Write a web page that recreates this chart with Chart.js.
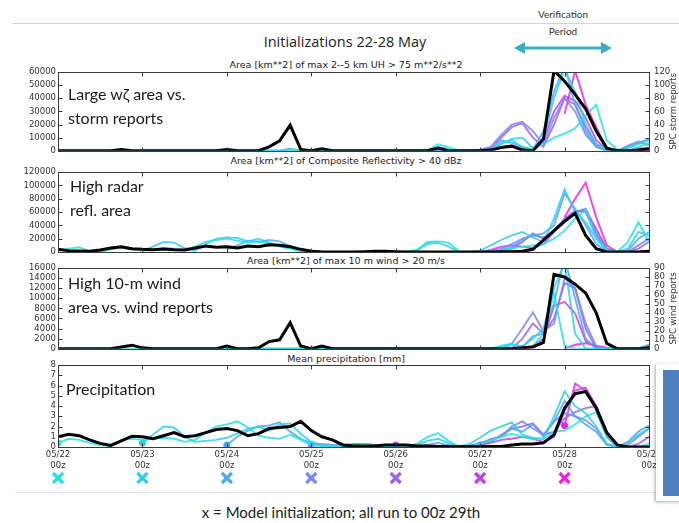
<!DOCTYPE html>
<html>
<head>
<meta charset="utf-8">
<script src="https://cdn.jsdelivr.net/npm/chart.js@4.4.1/dist/chart.umd.min.js"></script>
<style>
html, body { margin: 0; padding: 0; background: #fff; }
#page { position: relative; width: 679px; height: 523px; overflow: hidden; background: #fff; color: #222; }
canvas { position: absolute; left: 0; }
.t { position: absolute; white-space: nowrap; }
.c { transform: translate(-50%, -50%); }
.ptitle { font-family: "DejaVu Sans", sans-serif; font-size: 9.5px; color: #222; }
.note { font-family: Lato, "Open Sans", sans-serif; font-size: 16px; color: #1a1a1a; transform: translateY(-50%); }
.rule { position: absolute; height: 1px; background: #d4d4d4; }
#card { position: absolute; left: 656px; top: 364px; width: 40px; height: 137px; background: #fff; box-shadow: -1px 1px 3px rgba(0,0,0,0.35); z-index: 5; }
#card div { position: absolute; left: 7px; top: 6px; width: 40px; height: 126px; background: #4f7fbe; }
</style>
</head>
<body>
<div id="page">
  <div class="rule" style="left:12px; top:23px; width:667px;"></div>
  <div class="t c" style="left:563px; top:14px; font-family:Lato,sans-serif; font-size:10px; color:#333;">Verification</div>
  <div class="t c" style="left:563px; top:31px; font-family:Lato,sans-serif; font-size:10px; color:#333;">Period</div>
  <svg style="position:absolute; left:512px; top:40px;" width="102" height="16">
    <line x1="10" y1="8" x2="92" y2="8" stroke="#3aaec6" stroke-width="3"/>
    <polygon points="2,8 13,2 13,14" fill="#3aaec6"/>
    <polygon points="100,8 89,2 89,14" fill="#3aaec6"/>
  </svg>
  <div class="t c" style="left:345px; top:41px; font-family:'Open Sans',sans-serif; font-size:14.5px; color:#222;">Initializations 22-28 May</div>

  <div class="t c ptitle" style="left:346px; top:64px;">Area [km**2] of max 2--5 km UH &gt; 75 m**2/s**2</div>
  <div class="t c ptitle" style="left:346px; top:160px;">Area [km**2] of Composite Reflectivity &gt; 40 dBz</div>
  <div class="t c ptitle" style="left:346px; top:260px;">Area [km**2] of max 10 m wind &gt; 20 m/s</div>
  <div class="t c ptitle" style="left:346px; top:358px;">Mean precipitation [mm]</div>

  <canvas id="uh" width="679" height="98" style="top:62px;"></canvas>
  <canvas id="refl" width="679" height="99" style="top:161px;"></canvas>
  <canvas id="wind" width="679" height="100" style="top:258px;"></canvas>
  <canvas id="precip" width="679" height="135" style="top:355px;"></canvas>

  <div class="t note" style="left:68px; top:93px;">Large wζ area vs.</div>
  <div class="t note" style="left:68px; top:117px;">storm reports</div>
  <div class="t note" style="left:70px; top:185px;">High radar</div>
  <div class="t note" style="left:70px; top:209px;">refl. area</div>
  <div class="t note" style="left:68px; top:282px;">High 10-m wind</div>
  <div class="t note" style="left:68px; top:306px;">area vs. wind reports</div>
  <div class="t note" style="left:66px; top:388px;">Precipitation</div>

  <div class="rule" style="left:15px; top:492px; width:642px; background:#e2e2e2;"></div>
  <div class="t c" style="left:341px; top:512px; font-family:Lato,sans-serif; font-size:15px; color:#222;">x = Model initialization; all run to 00z 29th</div>
  <div id="card"><div></div></div>
</div>

<script>
// Time axis: 3-hourly values from 05/22 00z to 05/29 00z (57 steps).
const STEP_HOURS = 3;
const DAY_LABELS = ['05/22', '05/23', '05/24', '05/25', '05/26', '05/27', '05/28', '05/29'];
// Model runs initialised daily at 00z, 22-28 May; each run starts at step 8*k.
const INIT_STEPS = [0, 8, 16, 24, 32, 40, 48];
const RUN_COLORS = ['#1ee3ea', '#2fcdf2', '#4aa9f2', '#7b86f0', '#9c62ee', '#c33de9', '#f01ee6'];

// --- Panel 1: area of max 2-5 km UH > 75 (km^2), SPC storm reports (count)
const stormReports = [0,0,0,0,0,0,2,0, 0,0,0,0,0,0,0,0, 2,0,0,0,6,15,39,2, 0,3,0,0,0,0,0,0,
  0,0,0,0,4,0,0,0, 0,1,5,7,1,0,18,122, 106,86,64,30,4,0,0,1, 3];
const uhRun22 = [0,0,0,0,0,0,0,0, 0,0,0,0,0,0,0,0, 800,0,0,0,0,0,1200,0, 0,0,0,0,0,0,0,0,
  0,0,0,0,5000,2500,0,0, 0,0,6000,8000,3000,1000,5000,10000, 13000,17000,27000,35000,8000,1000,0,3000, 6000];
const uhRun23 = [0,0,0,0,0,0,0,0, 0,0,0,0,0,0,0,0, 0,0,0,0,0,0,0,0, 0,0,0,0,3000,1000,0,0,
  0,0,5000,9000,10000,2000,8000,40000, 62000,45000,20000,5000,1000,0,2000,5000, 8000];
const uhRun24 = [500,0,0,0,0,0,1500,0, 0,0,0,0,0,0,0,0, 0,0,0,0,0,0,0,0, 0,0,8000,6000,3000,1000,15000,45000,
  65000,35000,15000,3000,0,0,3000,6000, 9000];
const uhRun25 = [0,0,0,0,0,0,0,0, 0,0,0,0,0,0,0,0, 1000,3000,12000,20000,22000,15000,5000,25000,
  40000,30000,12000,3000,0,0,4000,7000, 4000];
const uhRun26 = [0,0,0,0,0,0,0,0, 0,2000,10000,18000,21000,10000,3000,20000, 40000,35000,18000,5000,0,0,0,2000, 2000];
const uhRun27 = [0,1000,3000,4000,2000,0,8000,30000, 42000,38000,25000,8000,1000,0,0,0, 500];
const uhRun28 = [28000,61000,35000,18000,2000,0,0,0, 500];

// --- Panel 2: area of composite reflectivity > 40 dBZ (km^2)
const reflObserved = [4000,2000,1500,1000,3000,6000,8000,5000, 4000,3500,4500,3500,3000,6000,9000,7000,
  8000,6000,9000,8000,11000,10000,8000,4000, 1000,0,0,0,0,500,1000,1000, 500,0,0,0,0,0,0,0,
  0,0,500,500,1000,4000,18000,32000, 46000,58000,25000,5000,0,0,0,0, 1000];
const reflRun22 = [2000,5000,7000,1000,0,4000,6000,4000, 2000,3000,6000,5000,3000,8000,15000,18000,
  20000,17000,14000,16000,12000,8000,5000,1000, 0,0,0,0,0,0,0,0, 0,0,3000,15000,16000,14000,1000,0,
  0,1000,3000,5000,8000,10000,12000,20000, 32000,50000,63000,20000,3000,0,15000,45000, 15000];
const reflRun23 = [2000,8000,15000,14000,6000,2000,12000,20000, 22000,21000,16000,20000,14000,9000,6000,2000,
  0,0,0,0,0,0,0,0, 0,0,2000,12000,14000,8000,0,0, 2000,10000,18000,25000,30000,22000,15000,50000,
  94000,60000,45000,20000,3000,0,5000,30000, 25000];
const reflRun24 = [4000,10000,17000,15000,18000,16000,9000,3000, 1000,0,0,0,0,0,0,0, 0,0,0,0,0,0,0,0, 0,0,
  3000,8000,18000,25000,28000,40000, 88000,65000,40000,12000,1000,0,2000,20000, 30000];
const reflRun25 = [2000,500,0,0,0,0,0,0, 0,0,0,0,0,0,0,0, 0,0,5000,12000,20000,25000,22000,30000,
  45000,60000,65000,30000,5000,0,0,10000, 20000];
const reflRun26 = [0,0,0,0,0,0,0,0, 0,0,0,5000,15000,28000,20000,32000, 50000,62000,60000,25000,3000,0,0,5000, 15000];
const reflRun27 = [0,3000,8000,10000,8000,6000,12000,30000, 50000,60000,63000,35000,5000,0,0,0, 2000];
const reflRun28 = [52000,80000,104000,52000,10000,0,0,0, 1000];

// --- Panel 3: area of max 10 m wind > 20 m/s (km^2), SPC wind reports (count)
const windReports = [0,0,0,0,0,0,2,4, 1,0,0,0,0,0,0,0, 3,0,0,1,8,10,29,3, 0,3,0,0,0,0,0,0,
  0,0,0,0,0,0,0,0, 0,0,0,0,1,2,7,83, 80,72,62,40,6,0,0,0, 1];
const windRun22 = [0,0,0,0,0,0,0,0, 0,0,0,0,0,0,0,0, 0,0,0,0,0,0,0,0, 0,0,0,0,0,0,0,0, 0,0,0,0,0,0,0,0,
  0,0,600,1000,300,500,3000,11000, 500,0,0,0,0,0,0,0, 0];
const windRun23 = [0,0,0,0,0,0,0,0, 0,0,0,0,0,0,0,0, 0,0,0,0,0,0,0,0, 0,0,0,0,0,0,0,0, 0,0,
  300,800,500,2000,4000,12000, 17000,3000,0,0,0,0,0,0, 0];
const windRun24 = [0,0,0,0,0,0,0,0, 0,0,0,0,0,0,0,0, 0,0,0,0,0,0,0,0, 0,0,0,0,
  300,2500,3000,9000, 18000,10000,2000,0,0,0,0,0, 500];
const windRun25 = [0,0,0,0,0,0,0,0, 0,0,0,0,0,0,0,0, 0,0,0,1000,4000,7200,3500,5000,
  14000,12000,5000,500,0,0,0,0, 800];
const windRun26 = [0,0,0,0,0,0,0,0, 0,0,0,0,2000,5000,3000,6000, 13000,12000,4000,0,0,0,0,0, 600];
const windRun27 = [0,0,0,0,0,500,2000,8500, 9300,7000,1500,300,0,0,0,0, 0];
const windRun28 = [0,800,1100,600,200,0,0,0, 0];

// --- Panel 4: mean precipitation (mm)
const precipObserved = [1.0,1.25,1.1,0.7,0.35,0.15,0.6,1.05, 1.0,0.8,1.1,1.4,1.0,1.1,1.4,1.7,
  1.8,1.6,1.1,1.3,1.8,1.9,2.0,2.5, 1.6,1.0,0.7,0.2,0.1,0.1,0.1,0.2, 0.2,0.2,0.1,0.1,0.05,0.05,0.05,0.05,
  0.05,0.05,0.05,0.2,0.3,0.3,0.4,1.2, 3.8,5.2,5.4,3.8,1.4,0.2,0,0, 0];
const precipRun22 = [0.4,0.8,0.7,0.4,0.2,0.05,0.7,0.8, 0.7,0.8,0.9,0.8,0.5,0.7,1.4,2.0,
  2.2,2.5,1.9,1.1,0.9,0.8,1.2,0.7, 0.2,0.1,0.1,0.1,0.2,0.3,0.1,0.1, 0.2,0.1,0.3,1.0,1.35,0.6,0,0,
  0.3,0.6,1.0,1.3,1.0,0.8,0.8,1.5, 1.6,2.2,3.0,3.4,1.0,0.1,0,0, 0.3];
const precipRun23 = [0.4,1.2,2.0,1.9,1.0,0.5,0.6,0.7, 0.9,1.3,1.8,2.0,1.6,2.2,2.3,1.3,
  0.5,0.2,0.1,0.1,0.1,0.2,0.2,0.1, 0.1,0.1,0.2,0.6,0.8,0.4,0.05,0.3, 0.9,1.6,2.0,2.4,1.2,0.9,0.8,3.0,
  5.4,4.0,3.3,2.0,0.3,0,0.4,1.2, 1.8];
const precipRun24 = [0.2,1.0,1.6,2.0,2.1,2.4,1.5,0.8, 0.4,0.1,0.05,0.1,0.2,0.3,0.2,0.1,
  0.1,0.05,0.05,0.2,0.4,0.2,0.05,0.1, 0.4,0.7,1.0,1.8,1.5,2.2,1.0,2.5, 4.5,3.0,2.2,1.5,0.2,0,0.5,1.5, 2.1];
const precipRun25 = [0.2,0.3,0.2,0.2,0.3,0.3,0.2,0.1, 0.05,0.05,0.05,0.1,0.1,0.05,0.05,0.1,
  0.3,0.8,1.0,2.0,2.5,1.8,1.2,2.5, 3.3,3.0,2.6,1.8,0.3,0,0.2,1.0, 1.8];
const precipRun26 = [0.2,0.1,0.05,0.05,0.05,0.05,0.05,0.1, 0.3,0.5,1.2,1.8,2.0,2.3,1.2,1.5,
  2.8,3.4,3.8,4.0,1.5,0.2,0,0.3, 1.0];
const precipRun27 = [0.2,0.4,0.7,0.8,1.0,0.8,0.5,1.0, 3.5,5.5,5.8,4.0,1.2,0.1,0,0, 0];
const precipRun28 = [2.1,6.2,5.5,3.6,1.0,0,0,0, 0];

const TICK_FONT = { family: 'DejaVu Sans', size: 8.5, lineHeight: 1.35 };
const TICK_COLOR = '#333';

function toPoints(values, startStep) {
  return values.map((v, j) => ({ x: (startStep + j) * STEP_HOURS, y: v }));
}

function withAlpha(hex, a) {
  const n = parseInt(hex.slice(1), 16);
  return `rgba(${(n >> 16) & 255},${(n >> 8) & 255},${n & 255},${a})`;
}

// Box outline, inward tick marks, rotated right-hand label and init markers.
const panelFrame = {
  id: 'panelFrame',
  afterDraw(chart, args, opts) {
    const { ctx, chartArea: a, scales } = chart;
    const L = 4;
    ctx.save();
    ctx.strokeStyle = '#3a3a3a';
    ctx.lineWidth = 1;
    const seg = (x1, y1, x2, y2) => { ctx.beginPath(); ctx.moveTo(x1, y1); ctx.lineTo(x2, y2); ctx.stroke(); };
    const l = Math.round(a.left) + 0.5, r = Math.round(a.right) + 0.5;
    const t = Math.round(a.top) + 0.5, b = Math.round(a.bottom) + 0.5;
    ctx.strokeRect(l, t, r - l, b - t);
    for (let h = 0; h <= 168; h += 24) {
      const px = Math.round(scales.x.getPixelForValue(h)) + 0.5;
      seg(px, b, px, b - L);
      seg(px, t, px, t + L);
    }
    scales.y.ticks.forEach(tk => {
      const py = Math.round(scales.y.getPixelForValue(tk.value)) + 0.5;
      seg(l, py, l + L, py);
      if (!scales.y1) seg(r, py, r - L, py);
    });
    if (scales.y1) {
      scales.y1.ticks.forEach(tk => {
        const py = Math.round(scales.y1.getPixelForValue(tk.value)) + 0.5;
        seg(r, py, r - L, py);
      });
    }
    if (opts.sideTitle) {
      ctx.fillStyle = TICK_COLOR;
      ctx.font = '8.5px "DejaVu Sans"';
      ctx.textAlign = 'center';
      ctx.textBaseline = 'middle';
      ctx.translate(opts.sideTitleX, (a.top + a.bottom) / 2);
      ctx.rotate(-Math.PI / 2);
      ctx.fillText(opts.sideTitle, 0, 0);
      ctx.setTransform(1, 0, 0, 1, 0, 0);
    }
    if (opts.initMarkers) {
      const y = a.bottom + opts.markerOffset;
      const s = 5;
      ctx.lineWidth = 3.2;
      INIT_STEPS.forEach((st, k) => {
        const x = scales.x.getPixelForValue(st * STEP_HOURS);
        ctx.strokeStyle = RUN_COLORS[k];
        seg(x - s, y - s, x + s, y + s);
        seg(x - s, y + s, x + s, y - s);
      });
    }
    ctx.restore();
  }
};

function panelChart(id, cfg) {
  const datasets = [{
    data: toPoints(cfg.observed, 0),
    borderColor: '#000',
    borderWidth: 3,
    yAxisID: cfg.rightMax ? 'y1' : 'y'
  }];
  cfg.runs.forEach((vals, k) => {
    datasets.push({
      data: toPoints(vals, INIT_STEPS[k]),
      borderColor: withAlpha(RUN_COLORS[k], 0.85),
      borderWidth: 1.9,
      yAxisID: 'y',
      pointRadius: cfg.initDots ? (c => (c.dataIndex === 0 ? 3.5 : 0)) : 0,
      pointBackgroundColor: RUN_COLORS[k],
      pointBorderWidth: 0
    });
  });

  const scales = {
    x: {
      type: 'linear', min: 0, max: 168,
      display: !!cfg.showX,
      grid: { display: false, drawTicks: false },
      border: { display: false },
      ticks: {
        stepSize: 24, autoSkip: false, maxRotation: 0, padding: 2,
        font: TICK_FONT, color: TICK_COLOR,
        callback: v => [DAY_LABELS[Math.round(v / 24)], '00z']
      },
      afterFit: s => { s.height = cfg.showX ? 43 : 0; }
    },
    y: {
      min: 0, max: cfg.yMax,
      grid: { display: false, drawTicks: false },
      border: { display: false },
      ticks: { stepSize: cfg.yStep, autoSkip: false, padding: 2, font: { family: 'DejaVu Sans', size: 8.5, lineHeight: 1 }, color: TICK_COLOR, callback: v => String(v) },
      afterFit: s => { s.width = 58; }
    }
  };
  if (cfg.rightMax) {
    scales.y1 = {
      position: 'right', min: 0, max: cfg.rightMax,
      grid: { display: false, drawTicks: false },
      border: { display: false },
      ticks: { stepSize: cfg.rightStep, autoSkip: false, padding: 5, font: { family: 'DejaVu Sans', size: 8.5, lineHeight: 1 }, color: TICK_COLOR, callback: v => String(v) },
      afterFit: s => { s.width = 30; }
    };
  }

  return new Chart(document.getElementById(id), {
    type: 'line',
    data: { datasets },
    options: {
      responsive: false,
      animation: false,
      devicePixelRatio: 1,
      elements: { line: { tension: 0 }, point: { radius: 0 } },
      layout: { padding: { left: 0, right: cfg.rightMax ? 0 : 30, top: cfg.padTop, bottom: cfg.padBottom } },
      plugins: {
        legend: { display: false },
        tooltip: { enabled: false },
        panelFrame: cfg.frame || {}
      },
      scales
    },
    plugins: [panelFrame]
  });
}

panelChart('uh', {
  observed: stormReports,
  runs: [uhRun22, uhRun23, uhRun24, uhRun25, uhRun26, uhRun27, uhRun28],
  yMax: 60000, yStep: 10000, rightMax: 120, rightStep: 20,
  padTop: 10, padBottom: 8,
  frame: { sideTitle: 'SPC storm reports', sideTitleX: 674 }
});

panelChart('refl', {
  observed: reflObserved,
  runs: [reflRun22, reflRun23, reflRun24, reflRun25, reflRun26, reflRun27, reflRun28],
  yMax: 120000, yStep: 20000,
  padTop: 11, padBottom: 8
});

panelChart('wind', {
  observed: windReports,
  runs: [windRun22, windRun23, windRun24, windRun25, windRun26, windRun27, windRun28],
  yMax: 16000, yStep: 2000, rightMax: 90, rightStep: 10,
  padTop: 10, padBottom: 9,
  frame: { sideTitle: 'SPC wind reports', sideTitleX: 674 }
});

panelChart('precip', {
  observed: precipObserved,
  runs: [precipRun22, precipRun23, precipRun24, precipRun25, precipRun26, precipRun27, precipRun28],
  yMax: 8, yStep: 1,
  padTop: 10, padBottom: 0,
  showX: true, initDots: true,
  frame: { initMarkers: true, markerOffset: 31 }
});
</script>
</body>
</html>
